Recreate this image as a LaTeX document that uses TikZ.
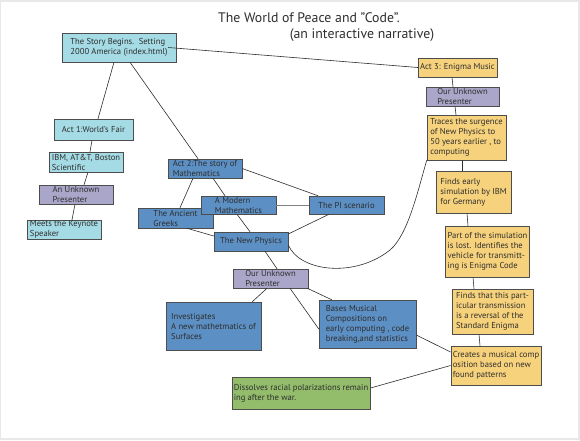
\documentclass[tikz,border=0pt]{standalone}
\usepackage{fontspec}
\setmainfont{PT Sans}
\usetikzlibrary{positioning, calc}

\definecolor{frame_gray}{HTML}{E8E8E8}
\definecolor{act_cyan}{HTML}{A5DBE5}
\definecolor{presenter_purple}{HTML}{AAA6C9}
\definecolor{math_blue}{HTML}{5C8FC3}
\definecolor{enigma_yellow}{HTML}{F7D27C}
\definecolor{peace_green}{HTML}{93BC6B}
\definecolor{ink}{HTML}{2E2E2E}

\begin{document}
\begin{tikzpicture}[
        x=1pt, y=-1pt,
        % Define styles for the nodes
        base_node/.style={draw=ink!85, line width=0.5pt, align=left, inner xsep=2pt, inner ysep=0.5pt,
            text=ink, font=\fontsize{8.6}{10}\selectfont},
        box_size/.style 2 args={minimum width=#1, minimum height=#2},
        cyan_node/.style={base_node, fill=act_cyan},
        purple_node/.style={base_node, fill=presenter_purple},
        blue_node/.style={base_node, fill=math_blue},
        yellow_node/.style={base_node, fill=enigma_yellow},
        green_node/.style={base_node, fill=peace_green},
        title_text/.style={text=ink, font=\fontsize{13.8}{16}\selectfont, inner sep=0pt},
        link/.style={draw=ink, line width=0.6pt}
    ]

    % === page frame ===
    \fill[frame_gray] (0,0) rectangle (580,440);
    \fill[white] (1,2) rectangle (578,438);

    % === title ===
    \node (title) [title_text] at (309,18) {The World of Peace and "Code".};
    \node (subtitle) [title_text] at (362,35) {(an interactive narrative)};

    % ==============================================
    % === LEFT COLUMN (start, Act 1) ===
    % ==============================================
    \node (story) [cyan_node, box_size={114pt}{29pt}] at (119,47.5) {The Story Begins.\ \ Setting\\2000 America (index.html)};
    \node (act1) [cyan_node, box_size={79pt}{21pt}] at (93.5,129.5) {Act 1:World's Fair};
    \node (ibm) [cyan_node, box_size={74pt}{20pt}] at (86,162) {IBM, AT\&T, Boston\\Scientific};
    \node (pres1) [purple_node, box_size={74pt}{19pt}] at (76,194.5) {An Unknown\\Presenter};
    \node (keynote) [cyan_node, box_size={74pt}{19pt}] at (64,229.5) {Meets the Keynote\\Speaker};

    \draw [link] ([xshift=-5pt]story.south) -- ([xshift=4.5pt]act1.north);
    \draw [link] ([xshift=-1.5pt]act1.south) -- ([xshift=4pt]ibm.north);
    \draw [link] ([xshift=2pt]ibm.south) -- ([xshift=8pt]pres1.north);
    \draw [link] ([xshift=-1pt]pres1.south) -- ([xshift=8pt]keynote.north);

    % ==============================================
    % === MIDDLE (Act 2) ===
    % ==============================================
    \node (act2) [blue_node, box_size={74pt}{19pt}] at (205,168.5) {Act 2:The story of\\Mathematics};
    \node (greeks) [blue_node, box_size={75pt}{20pt}] at (175.5,218) {The Ancient\\Greeks};
    \node (modern) [blue_node, box_size={75pt}{18pt}] at (238.5,205) {A Modern\\Mathematics};
    \node (pi) [blue_node, box_size={75pt}{18pt}] at (346.5,205) {The PI scenario};
    \node (physics) [blue_node, box_size={74pt}{19pt}] at (251,241.5) {The New Physics};
    \node (pres2) [purple_node, box_size={75pt}{19pt}] at (270.5,278.5) {Our Unknown\\Presenter};
    \node (surfaces) [blue_node, box_size={95pt}{48pt}] at (213.5,326) {Investigates\\A new mathetmatics of\\Surfaces};
    \node (bases) [blue_node, box_size={97pt}{48pt}] at (367.5,324) {Bases Musical\\Compositions on\\early computing , code\\ breaking,and statistics};
    \node (dissolve) [green_node, box_size={138pt}{32pt}] at (301,393) {Dissolves racial polarizations remain\\ing after the war.};

    \draw [link] ([xshift=11pt]story.south) -- ([xshift=-7pt]act2.north);
    \draw [link] ([xshift=-12pt]act2.south) -- ([xshift=4.5pt]greeks.north);
    \draw [link] ([xshift=8pt]act2.south) -- ([xshift=-13.5pt]modern.north);
    \draw [link] (act2.east) -- ([xshift=-28.5pt]pi.north);
    \draw [link, draw=ink!60] (modern.east) -- (pi.west);
    \draw [link] ([xshift=-1.5pt]modern.south) -- ([xshift=-1pt]physics.north);
    \draw [link] ([xshift=11.5pt]greeks.south) -- ([yshift=5.5pt]physics.west);
    \draw [link] ([xshift=-17.5pt]pi.south) -- ([yshift=7.5pt]physics.east);
    \draw [link] ([xshift=14pt]physics.south) -- ([xshift=6.5pt]pres2.north);
    \draw [link] ([xshift=-3.5pt]pres2.south) -- ([xshift=-9pt]surfaces.north east);
    \draw [link] ([xshift=-1pt]pres2.south east) -- ([xshift=13pt]bases.north west);
    \draw [link] ([xshift=19.5pt]pres2.south) -- ([yshift=-5pt]bases.west);

    % ==============================================
    % === RIGHT COLUMN (Act 3) ===
    % ==============================================
    \node (act3) [yellow_node, box_size={73pt}{19pt}] at (457.5,67.5) {Act 3: Enigma Music};
    \node (pres3) [purple_node, box_size={73pt}{19pt}] at (462.5,96.5) {Our Unknown\\Presenter};
    \node (traces) [yellow_node, box_size={79pt}{45pt}] at (466.5,137.5) {Traces the surgence\\of New Physics to\\50 years earlier , to\\computing};
    \node (ibmsim) [yellow_node, box_size={75pt}{42pt}] at (473.5,192) {Finds early\\simulation by IBM\\for Germany};
    \node (lost) [yellow_node, box_size={83pt}{51pt}] at (487.5,251.5) {Part of the simulation\\is lost. Identifies the\\vehicle for transmitt-\\ing is Enigma Code};
    \node (reversal) [yellow_node, box_size={81pt}{45pt}] at (492.5,311.5) {Finds that this part-\\icular transmission\\is a reversal of the\\Standard Enigma};
    \node (creates) [yellow_node, box_size={90pt}{39pt}] at (496,365.5) {Creates a musical comp\\osition based on new\\found patterns};

    \draw [link] ([xshift=-8pt]story.east) -- (act3.west);
    \draw [link] ([xshift=-5.5pt]act3.south) -- ([xshift=-9.5pt]pres3.north);
    \draw [link] ([xshift=-7.5pt]pres3.south) -- ([xshift=-10.5pt]traces.north);
    \draw [link] ([xshift=-4.5pt]traces.south) -- ([xshift=-11.5pt]ibmsim.north);
    \draw [link] ([xshift=-6.5pt]ibmsim.south) -- ([xshift=-19.5pt]lost.north);
    \draw [link] ([xshift=-14.5pt]lost.south) -- ([xshift=-18.5pt]reversal.north);
    \draw [link] ([xshift=-13.5pt]reversal.south) -- ([xshift=-16pt]creates.north);
    \draw [link] ([yshift=-11pt]bases.east) -- ([yshift=13.5pt]creates.west);
    \draw [link] (creates.west) -- ([yshift=5pt]dissolve.east);

    % New Physics loops round to the Act 3 thread
    \draw [link] ([yshift=-3.5pt]physics.east) .. controls (300,272) and (355,278) .. (390,250)
        .. controls (408,235) and (418,190) .. (traces.south west);

\end{tikzpicture}
\end{document}
